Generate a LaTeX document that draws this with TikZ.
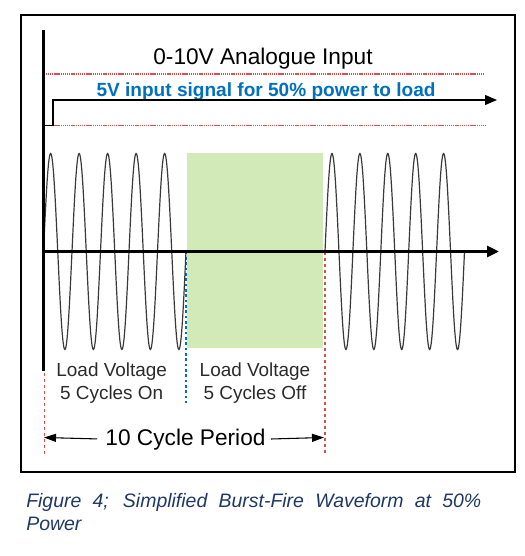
\documentclass[tikz,border=0pt]{standalone}
\usepackage{fontspec}
\setmainfont{Liberation Sans}
\usepackage{xcolor}
\usepackage{tikz}
\usetikzlibrary{calc,arrows.meta}
\definecolor{inkblue}{HTML}{0070C0}
\definecolor{capblue}{HTML}{1F3864}
\definecolor{redline}{HTML}{D94F4F}
\definecolor{offgreen}{HTML}{D2EAB8}
\definecolor{wave}{HTML}{3A3A3A}
\definecolor{labgray}{HTML}{2B2B2B}
\tikzset{
  frame/.style={draw=black, line width=1pt},
  axis/.style={draw=black, line width=2.3pt},
  sigline/.style={draw=black, line width=0.8pt},
  waveline/.style={draw=wave, line width=0.9pt},
  reddots/.style={draw=redline, line width=0.9pt, dash pattern=on 1pt off 0.6pt},
  reddash/.style={draw=redline, line width=0.8pt, dash pattern=on 2.5pt off 2pt},
  bluedash/.style={draw=inkblue, line width=0.8pt, dash pattern=on 2pt off 2pt},
  bigtext/.style={font=\fontsize{17}{20}\selectfont, inner sep=0pt},
  sigtext/.style={text=inkblue, font=\bfseries\fontsize{14.3}{17}\selectfont, inner sep=0pt},
  lab/.style={text=labgray, font=\fontsize{14.2}{16.7}\selectfont, align=center, inner sep=0pt},
  caption/.style={text=capblue, font=\itshape\fontsize{14.6}{17}\selectfont, inner sep=0pt},
}

\begin{document}
\begin{tikzpicture}[x=0.75pt, y=-0.75pt]
  \useasboundingbox (0,0) rectangle (524,556);
  \draw[frame] (21,15) rectangle (515,472);

  % input signal band
  \coordinate (s0) at (43.5,125.5);
  \coordinate (s1) at (53,125.5);
  \coordinate (s2) at (53,100);
  \coordinate (s3) at (497,100);
  \draw[reddots] (43.5,74) -- (485,74);
  \draw[reddots] (43.5,125.5) -- (486,125.5);
  \node[bigtext, anchor=base] (title) at (263,65) {0-10V Analogue Input};
  \node[sigtext, anchor=base] (sig) at (266,96.5) {5V input signal for 50\% power to load};
  \draw[sigline, -{Triangle[length=12*0.75pt, width=10*0.75pt]}] (s0) -- (s1) -- (s2) -- (s3);

  % off period
  \fill[offgreen] (186.7,153.3) rectangle (323.3,348.3);

  % period markers
  \coordinate (rl0) at (44.5,313);
  \coordinate (rl1) at (44.5,457);
  \coordinate (rr0) at (325,251.5);
  \coordinate (rr1) at (325,455);
  \coordinate (bl0) at (186,251.5);
  \coordinate (bl1) at (186,403);
  \draw[reddash] (rl0) -- (rl1);
  \draw[reddash] (rr0) -- (rr1);
  \draw[bluedash] (bl0) -- (bl1);

  % waveform
  \draw[waveline] plot[domain=43.5:186, samples=301, smooth]
    (\x, {251.5-98*sin((\x-43.5)/28.5*360)});
  \draw[waveline] plot[domain=325:464.5, samples=301, smooth]
    (\x, {251.5-98*sin((\x-325)/27.9*360)});

  % axes
  \coordinate (vtop) at (43.5,30);
  \coordinate (vbot) at (43.5,371);
  \coordinate (origin) at (43.5,251.5);
  \coordinate (xend) at (499,251.5);
  \draw[axis] (vtop) -- (vbot);
  \draw[axis, -{Triangle[length=12*0.75pt, width=11*0.75pt]}] (origin) -- (xend);

  % labels
  \node[lab] (onlab) at (111.7,383) {Load Voltage\\5 Cycles On};
  \node[lab] (offlab) at (255,383) {Load Voltage\\5 Cycles Off};

  \coordinate (p0) at (44,437.5);
  \coordinate (p1) at (324,437.5);
  \node[bigtext, anchor=base] (period) at (185.5,445) {10 Cycle Period};
  \draw[sigline, -{Triangle[length=12*0.75pt, width=8*0.75pt]}, shorten <=6pt] (period.west) -- (p0);
  \draw[sigline, -{Triangle[length=12*0.75pt, width=8*0.75pt]}, shorten <=4pt] (period.east) -- (p1);

  % caption
  \node[caption, anchor=base west] (cap1) at (26,507)
    {\makebox[341.25pt][s]{Figure 4; Simplified Burst-Fire Waveform at 50\%}};
  \node[caption, anchor=base west] (cap2) at (26,530) {Power};
\end{tikzpicture}
\end{document}
